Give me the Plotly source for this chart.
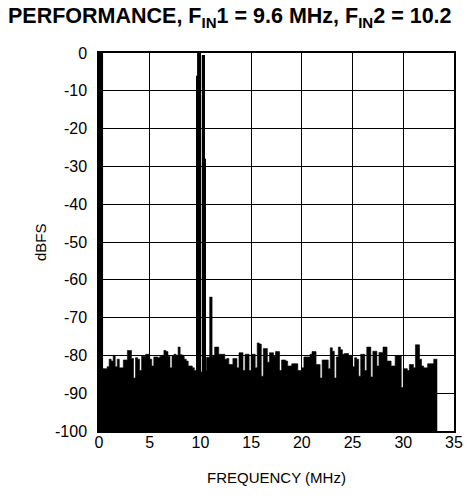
import numpy as np
import plotly.graph_objects as go

# Noise floor of the FFT, one value per 0.2 MHz bin starting at 0 MHz (dBFS)
noise_dbfs = [
    -84, -84, -83.5, -83.5, -83,
    -81, -81.5, -80, -83, -81,
    -83.3, -83.3, -81.2, -81.2, -78.7,
    -78.7, -80.8, -86, -80.6, -81,
    -84, -80.2, -80.2, -79.7, -79.7,
    -81, -82.8, -80.4, -80.4, -80.6,
    -80.2, -80, -78.7, -79, -80.2,
    -83.3, -80, -79.7, -80, -77.8,
    -79.8, -80, -81, -81.5, -82.8,
    -82.8, -83.3, -84, -84, -84,
    -84.4, -84, -84, -80.5, -80.5,
    -80.5, -80, -77.8, -77.8, -79.7,
    -79.7, -79.7, -81, -80.8, -82.4,
    -82.4, -80.8, -80.8, -83.3, -79.3,
    -79.3, -84, -79.7, -79.7, -84,
    -79.7, -79.7, -83.3, -76.7, -77,
    -85.5, -78.2, -78.2, -81.8, -79.3,
    -79.3, -80.2, -79, -79, -84,
    -81.2, -81.2, -81.5, -82.8, -82.8,
    -82.2, -82.2, -82.2, -84, -84,
    -83.3, -80.4, -80.4, -80.4, -79.7,
    -79, -79, -82.4, -82.4, -86,
    -81.2, -81.2, -81.2, -83.5, -78,
    -78.9, -86, -80.4, -77.8, -78.5,
    -79.7, -79.5, -79.5, -80, -80,
    -83, -80.6, -81, -85.5, -79.7,
    -79.7, -84, -77.8, -77.8, -85.7,
    -78.9, -78.9, -82.8, -79.2, -79.2,
    -77.8, -77.8, -81.5, -81.5, -82.8,
    -82.8, -80, -80, -80, -88.5,
    -83.5, -83.5, -84, -82.4, -82.4,
    -83.3, -77.2, -77.2, -81, -82.8,
    -83.3, -83.3, -82.2, -82.2, -82.2,
    -81, -81,
]
noise_bin_mhz = 0.2
noise_end_mhz = 33.35

# Tones / spurs (frequency span in MHz and level in dBFS)
tone_start_mhz = [0.0, 9.6, 9.67, 10.13, 10.45, 10.88]
tone_stop_mhz = [0.4, 9.67, 10.0, 10.45, 10.53, 11.18]
tone_dbfs = [0.0, -6.0, 0.0, -0.5, -28.0, -64.5]

x_tick_vals = [0, 5, 10, 15, 20, 25, 30, 35]
x_tick_text = ["0", "5", "10", "15", "20", "25", "30", "35"]
y_tick_vals = [0, -10, -20, -30, -40, -50, -60, -70, -80, -90, -100]
y_tick_text = ["0", "-10", "-20", "-30", "-40", "-50", "-60", "-70", "-80", "-90", "-100"]

floor_dbfs = -100

noise_x = [round(i * noise_bin_mhz, 2) for i in range(len(noise_dbfs))] + [noise_end_mhz]
noise_y = list(noise_dbfs) + [noise_dbfs[-1]]

fig = go.Figure()
fig.add_trace(go.Scatter(
    x=[0, noise_end_mhz], y=[floor_dbfs, floor_dbfs],
    mode="lines", line=dict(width=0, color="black"),
    showlegend=False, hoverinfo="skip",
))
fig.add_trace(go.Scatter(
    x=noise_x, y=noise_y, mode="lines",
    line=dict(color="black", width=0.6, shape="hv"),
    fill="tonexty", fillcolor="black", showlegend=False,
))
fig.add_trace(go.Bar(
    x=tone_start_mhz,
    y=[v - floor_dbfs for v in tone_dbfs],
    base=floor_dbfs,
    width=[b - a for a, b in zip(tone_start_mhz, tone_stop_mhz)],
    offset=0,
    marker=dict(color="black", line=dict(width=0)),
    showlegend=False,
))

font_family = "Liberation Sans, Arial, sans-serif"

fig.update_layout(
    width=466, height=495,
    margin=dict(l=91, r=20, t=45, b=72),
    paper_bgcolor="white", plot_bgcolor="white",
    barmode="overlay",
    showlegend=False,
    font=dict(family=font_family, size=16, color="black"),
    title=dict(
        text="PERFORMANCE, F<sub>IN</sub>1 = 9.6 MHz, F<sub>IN</sub>2 = 10.2",
        font=dict(family=font_family, size=21.5, color="black", weight="bold"),
        xref="container", yref="container",
        x=0, xanchor="left", y=1, yanchor="top",
        pad=dict(t=0, l=0),
    ),
    xaxis=dict(
        range=[0, 35], tickvals=x_tick_vals, ticktext=x_tick_text,
        showgrid=True, gridcolor="black", gridwidth=1,
        showline=True, linecolor="black", linewidth=1.5, mirror=True,
        ticks="", zeroline=False,
        tickfont=dict(size=16),
        ticklabelstandoff=-4,
    ),
    yaxis=dict(
        range=[-100, 0], tickvals=y_tick_vals, ticktext=y_tick_text,
        showgrid=True, gridcolor="black", gridwidth=1,
        showline=True, linecolor="black", linewidth=1.5, mirror=True,
        ticks="", zeroline=False,
        tickfont=dict(size=16),
        ticklabelstandoff=7,
    ),
    annotations=[
        dict(text="FREQUENCY (MHz)", xref="paper", yref="paper",
             x=0.5, y=-0.1217, xanchor="center", yanchor="middle",
             showarrow=False, font=dict(size=15)),
        dict(text="dBFS", xref="paper", yref="paper",
             x=-0.166, y=0.5, xanchor="center", yanchor="middle",
             textangle=-90, showarrow=False, font=dict(size=15)),
    ],
)

fig.write_html("out.html")
